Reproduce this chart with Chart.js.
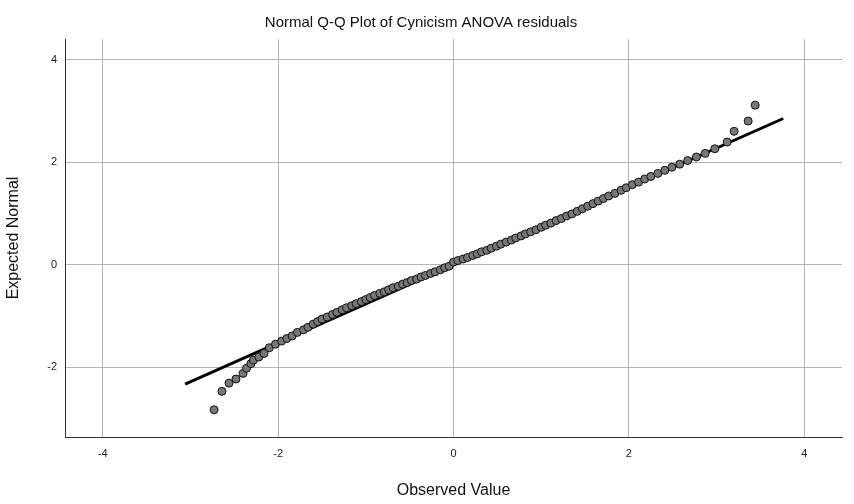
<!DOCTYPE html>
<html>
<head>
<meta charset="utf-8">
<script src="https://cdn.jsdelivr.net/npm/chart.js@4"></script>
<style>
  body { margin: 0; background: #fff; }
  #wrap { width: 854px; height: 504px; }
</style>
</head>
<body>
<div id="wrap"><canvas id="qq"></canvas></div>
<script>
  // observed residuals and expected normal values
  const observed = [-2.73,-2.64,-2.56,-2.48,-2.40,-2.36,-2.31,-2.28,-2.22,-2.16,-2.10,-2.03,-1.96,-1.90,-1.84,-1.78,-1.71,-1.66,-1.60,-1.55,-1.50,-1.44,-1.38,-1.33,-1.27,-1.22,-1.16,-1.11,-1.05,-1.00,-0.95,-0.90,-0.84,-0.79,-0.74,-0.69,-0.63,-0.58,-0.53,-0.48,-0.42,-0.37,-0.32,-0.26,-0.21,-0.15,-0.10,-0.05,0.00,0.05,0.11,0.16,0.22,0.27,0.32,0.38,0.43,0.49,0.54,0.60,0.66,0.71,0.77,0.82,0.88,0.94,1.00,1.05,1.11,1.17,1.23,1.29,1.35,1.41,1.47,1.53,1.59,1.65,1.71,1.77,1.84,1.91,1.97,2.04,2.11,2.18,2.25,2.33,2.41,2.49,2.58,2.67,2.77,2.87,2.98,3.12,3.20,3.36,3.44];
  const expected = [-2.83,-2.47,-2.31,-2.23,-2.12,-2.02,-1.93,-1.86,-1.80,-1.73,-1.62,-1.55,-1.49,-1.44,-1.39,-1.32,-1.27,-1.22,-1.16,-1.11,-1.06,-1.02,-0.97,-0.93,-0.88,-0.84,-0.80,-0.76,-0.72,-0.68,-0.64,-0.60,-0.56,-0.53,-0.49,-0.45,-0.42,-0.38,-0.35,-0.31,-0.28,-0.24,-0.21,-0.17,-0.14,-0.10,-0.06,-0.03,0.05,0.08,0.11,0.14,0.18,0.21,0.25,0.28,0.32,0.36,0.40,0.44,0.48,0.52,0.56,0.60,0.64,0.68,0.73,0.77,0.81,0.86,0.90,0.95,0.99,1.04,1.09,1.14,1.19,1.24,1.29,1.34,1.39,1.45,1.50,1.56,1.61,1.67,1.72,1.78,1.84,1.90,1.96,2.03,2.10,2.17,2.26,2.39,2.60,2.80,3.11];
  // reference line end points
  const lineX = [-3.06, 3.76];
  const lineY = [-2.33, 2.85];
  const xTicks = [-4, -2, 0, 2, 4];
  const yTicks = [-2, 0, 2, 4];

  const pts = observed.map((x, i) => ({ x: x, y: expected[i] }));
  const linePts = lineX.map((x, i) => ({ x: x, y: lineY[i] }));

  new Chart(document.getElementById('qq'), {
    type: 'scatter',
    data: {
      datasets: [{
        type: 'line',
        data: linePts,
        borderColor: '#000',
        borderWidth: 3,
        pointRadius: 0,
        order: 1
      }, {
        data: pts,
        backgroundColor: '#777',
        borderColor: '#111',
        borderWidth: 1,
        pointRadius: 4,
        order: 0
      }]
    },
    options: {
      responsive: true,
      maintainAspectRatio: false,
      animation: false,
      layout: { padding: { left: 0, right: 12, top: 0, bottom: 0 } },
      plugins: {
        legend: { display: false },
        tooltip: { enabled: false },
        title: {
          display: true,
          text: 'Normal Q-Q Plot of Cynicism ANOVA residuals',
          color: '#111',
          font: { family: 'Arial, Liberation Sans', size: 15, weight: 'normal' },
          padding: { top: 14, bottom: 7 }
        }
      },
      scales: {
        x: {
          type: 'linear',
          min: -4.43, max: 4.43,
          afterBuildTicks: s => { s.ticks = xTicks.map(v => ({ value: v })); },
          afterFit: s => { s.height = 67; },
          grid: { color: '#b4b4b4', drawTicks: false },
          border: { color: '#333', width: 1 },
          ticks: { color: '#222', padding: 10, font: { family: 'Arial, Liberation Sans', size: 11 } },
          title: { display: true, text: 'Observed Value', color: '#111', padding: { top: 12 },
                   font: { family: 'Arial, Liberation Sans', size: 16 } }
        },
        y: {
          type: 'linear',
          min: -3.36, max: 4.4,
          afterBuildTicks: s => { s.ticks = yTicks.map(v => ({ value: v })); },
          afterFit: s => { s.width = 65; },
          grid: { color: '#b4b4b4', drawTicks: false },
          border: { color: '#333', width: 1 },
          ticks: { color: '#222', padding: 8, font: { family: 'Arial, Liberation Sans', size: 11 } },
          title: { display: true, text: 'Expected Normal', color: '#111',
                   font: { family: 'Arial, Liberation Sans', size: 16 } }
        }
      }
    }
  });
</script>
</body>
</html>
